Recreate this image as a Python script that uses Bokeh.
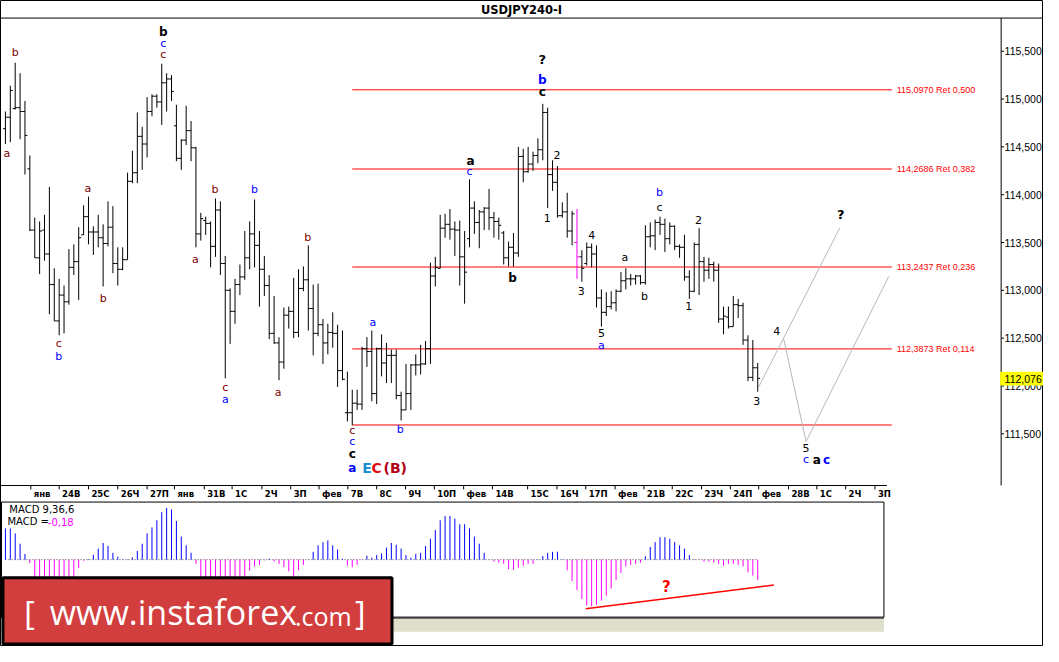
from bokeh.plotting import figure
from bokeh.models import Range1d, ColumnDataSource
from bokeh.core.properties import value
from bokeh.embed import file_html
from bokeh.resources import INLINE

# ---------------- data ----------------
opens = [114.69, 114.81, 114.90, 114.91, 114.87, 114.27, 113.63, 113.34, 113.63, 113.38,
         113.06, 112.68, 112.95, 112.88, 113.24, 113.30, 113.58, 113.77, 113.61, 113.61,
         113.55, 113.49, 113.66, 113.28, 113.22, 113.32, 114.14, 114.23, 114.61, 114.53,
         114.87, 115.03, 114.97, 115.17, 115.21, 114.72, 114.38, 114.57, 114.67, 114.49,
         113.59, 113.73, 113.70, 113.46, 113.84, 113.28, 113.00, 112.78, 113.06, 113.14,
         113.34, 113.59, 113.47, 113.22, 113.05, 112.55, 112.45, 112.25, 112.74, 112.78,
         112.56, 113.02, 113.11, 112.81, 112.55, 112.64, 112.45, 112.56, 112.55, 112.16,
         111.72, 111.72, 111.82, 111.81, 112.39, 112.36, 111.92, 112.39, 112.24, 112.32,
         112.32, 111.90, 111.75, 111.92, 112.22, 112.22, 112.23, 112.39, 113.15, 113.23,
         113.65, 113.69, 113.64, 113.63, 113.35, 113.54, 113.86, 113.71, 113.82, 113.86,
         113.76, 113.72, 113.60, 113.34, 113.45, 113.39, 114.40, 114.24, 114.32, 114.41,
         114.47, 114.86, 114.21, 114.13, 113.78, 113.82, 113.62, 113.50, 113.35, 113.28,
         113.45, 113.38, 112.92, 112.77, 112.83, 112.87, 112.99, 113.10, 113.12, 113.12,
         113.15, 113.08, 113.56, 113.57, 113.71, 113.69, 113.54, 113.67, 113.46, 113.45,
         113.14, 112.99, 113.48, 113.30, 113.21, 113.27, 113.21, 112.70, 112.72, 112.62,
         112.85, 112.84, 112.48, 112.09, 112.19]
highs = [114.87, 115.14, 115.38, 115.27, 114.98, 114.41, 113.76, 113.72, 113.79, 114.08,
         113.23, 113.12, 113.05, 113.43, 113.48, 113.66, 113.89, 113.98, 113.67, 113.79,
         113.69, 113.93, 113.88, 113.45, 113.45, 114.23, 114.46, 114.86, 114.71, 115.02,
         115.05, 115.05, 115.37, 115.27, 115.25, 114.94, 114.58, 114.93, 114.77, 114.50,
         113.81, 113.77, 113.72, 113.96, 113.93, 113.36, 113.02, 113.12, 113.27, 113.62,
         113.72, 113.95, 113.62, 113.36, 113.16, 112.94, 112.51, 112.82, 112.83, 113.13,
         113.22, 113.25, 113.47, 113.06, 113.07, 112.70, 112.65, 112.77, 112.64, 112.58,
         112.15, 111.96, 111.96, 112.41, 112.51, 112.58, 112.40, 112.54, 112.45, 112.38,
         112.38, 111.94, 112.23, 112.23, 112.33, 112.43, 112.47, 113.29, 113.35, 113.79,
         113.80, 113.85, 113.72, 113.73, 113.62, 114.16, 113.93, 113.84, 113.87, 114.06,
         113.82, 113.76, 113.62, 113.51, 113.60, 114.50, 114.48, 114.50, 114.45, 114.59,
         114.95, 114.91, 114.36, 114.30, 113.92, 114.02, 113.83, 113.85, 113.42, 113.50,
         113.49, 113.47, 113.01, 112.98, 112.99, 113.01, 113.19, 113.23, 113.17, 113.16,
         113.16, 113.68, 113.71, 113.74, 113.77, 113.75, 113.71, 113.68, 113.48, 113.58,
         113.21, 113.50, 113.65, 113.35, 113.34, 113.30, 113.28, 112.83, 112.83, 112.94,
         112.91, 112.87, 112.53, 112.48, 112.24]
lows = [114.53, 114.55, 114.89, 114.58, 114.21, 113.62, 113.34, 113.17, 113.31, 112.75,
        112.68, 112.53, 112.55, 112.85, 113.16, 112.90, 113.58, 113.48, 113.37, 113.45,
        113.04, 113.46, 113.18, 113.05, 113.21, 113.32, 114.12, 114.12, 114.26, 114.39,
        114.82, 114.91, 114.73, 114.87, 114.98, 114.35, 114.26, 114.52, 114.35, 113.45,
        113.52, 113.58, 113.24, 113.35, 113.16, 112.08, 112.44, 112.65, 112.95, 113.11,
        113.22, 113.24, 112.83, 112.94, 112.49, 112.44, 112.06, 112.18, 112.60, 112.50,
        112.51, 112.99, 112.58, 112.32, 112.52, 112.23, 112.33, 112.40, 111.99, 112.06,
        111.63, 111.59, 111.75, 111.75, 112.20, 111.84, 111.81, 112.10, 112.03, 112.03,
        111.86, 111.64, 111.75, 111.75, 112.11, 112.12, 112.22, 112.23, 113.04, 113.23,
        113.55, 113.53, 113.36, 113.05, 112.86, 113.45, 113.59, 113.44, 113.63, 113.63,
        113.55, 113.53, 113.27, 113.25, 113.25, 113.35, 114.13, 114.23, 114.25, 114.33,
        114.36, 113.86, 114.04, 113.76, 113.76, 113.55, 113.47, 113.12, 113.09, 113.26,
        113.24, 112.82, 112.62, 112.73, 112.80, 112.78, 112.98, 113.01, 113.05, 113.06,
        113.06, 113.06, 113.45, 113.42, 113.58, 113.40, 113.48, 113.42, 113.34, 113.10,
        112.91, 112.98, 112.95, 113.09, 113.12, 113.09, 112.66, 112.54, 112.60, 112.62,
        112.71, 112.43, 112.05, 112.05, 111.94]
closes = [114.81, 115.09, 114.91, 114.87, 114.62, 113.63, 113.34, 113.62, 113.38, 113.06,
          112.68, 112.95, 112.88, 113.24, 113.30, 113.55, 113.77, 113.61, 113.61, 113.55,
          113.49, 113.66, 113.28, 113.22, 113.32, 114.14, 114.23, 114.61, 114.53, 114.87,
          115.03, 114.97, 115.17, 115.21, 115.08, 114.38, 114.57, 114.67, 114.49, 113.59,
          113.75, 113.70, 113.46, 113.84, 113.28, 113.00, 112.78, 113.06, 113.14, 113.34,
          113.59, 113.47, 113.22, 113.05, 112.55, 112.45, 112.25, 112.74, 112.78, 112.56,
          113.02, 113.11, 112.81, 112.55, 112.64, 112.45, 112.56, 112.55, 112.16, 112.07,
          111.72, 111.82, 111.81, 112.39, 112.36, 111.92, 112.39, 112.24, 112.32, 112.32,
          111.90, 111.75, 111.92, 112.22, 112.22, 112.23, 112.39, 113.15, 113.24, 113.65,
          113.69, 113.64, 113.63, 113.35, 113.19, 113.86, 113.71, 113.82, 113.86, 113.76,
          113.72, 113.68, 113.34, 113.45, 113.39, 114.40, 114.24, 114.32, 114.41, 114.47,
          114.86, 114.21, 114.13, 113.78, 113.82, 113.62, 113.80, 113.35, 113.23, 113.45,
          113.38, 112.92, 112.77, 112.83, 112.87, 112.99, 113.10, 113.12, 113.12, 113.15,
          113.08, 113.56, 113.57, 113.71, 113.69, 113.54, 113.67, 113.46, 113.45, 113.14,
          112.99, 113.48, 113.30, 113.21, 113.27, 113.21, 112.70, 112.73, 112.62, 112.85,
          112.84, 112.48, 112.09, 112.19, 112.08]
highlight_bar = 117

macd_hist = [0.274, 0.274, 0.231, 0.14, 0.049, -0.031, -0.15, -0.19, -0.22, -0.24,
             -0.25, -0.25, -0.23, -0.2, -0.16, -0.074, -0.01, 0.005, 0.043, 0.097,
             0.146, 0.12, 0.06, 0.026, 0.003, 0.003, 0.02, 0.077, 0.14, 0.231,
             0.283, 0.346, 0.417, 0.454, 0.44, 0.34, 0.203, 0.126, 0.06, -0.037,
             -0.16, -0.2, -0.23, -0.25, -0.26, -0.26, -0.25, -0.23, -0.2, -0.15,
             -0.097, -0.06, -0.046, -0.006, 0.009, -0.017, -0.037, -0.066, -0.103, -0.15,
             -0.094, -0.046, -0.003, 0.069, 0.126, 0.154, 0.169, 0.126, 0.089, 0.009,
             -0.054, -0.066, -0.046, -0.003, 0.034, 0.017, 0.04, 0.054, 0.106, 0.146,
             0.131, 0.097, 0.04, 0.017, 0.049, 0.06, 0.12, 0.183, 0.26, 0.346,
             0.383, 0.383, 0.36, 0.311, 0.311, 0.274, 0.203, 0.14, 0.06, 0.0,
             -0.017, -0.026, -0.037, -0.083, -0.089, -0.07, -0.054, -0.037, -0.037, 0.003,
             0.031, 0.06, 0.069, 0.069, 0.003, -0.094, -0.189, -0.266, -0.346, -0.403,
             -0.409, -0.397, -0.36, -0.317, -0.254, -0.18, -0.117, -0.06, -0.046, -0.037,
             -0.026, 0.031, 0.111, 0.154, 0.197, 0.197, 0.183, 0.154, 0.126, 0.097,
             0.04, 0.003, -0.003, -0.017, -0.017, -0.026, -0.037, -0.054, -0.037, -0.037,
             -0.046, -0.06, -0.111, -0.14, -0.18]

date_labels = ["янв", "24В", "25С", "26Ч", "27П", "янв", "31В", "1С", "2Ч", "3П",
               "фев", "7В", "8С", "9Ч", "10П", "фев", "14В", "15С", "16Ч", "17П",
               "фев", "21В", "22С", "23Ч", "24П", "фев", "28В", "1С", "2Ч", "3П"]
date_ticks = [5.2, 11.0, 17.0, 23.0, 29.0, 34.6, 40.7, 46.4, 52.5, 58.4,
              64.2, 70.1, 76.0, 81.9, 87.8, 93.8, 99.7, 106.9, 112.9, 118.8,
              124.8, 130.7, 136.5, 142.5, 148.4, 154.2, 160.3, 166.1, 172.0, 178.0]

price_ticks = [111.5, 112.0, 112.5, 113.0, 113.5, 114.0, 114.5, 115.0, 115.5]
price_tick_labels = ["111,500", "112,000", "112,500", "113,000", "113,500",
                     "114,000", "114,500", "115,000", "115,500"]
fib_levels = [115.0970, 114.2686, 113.2437, 112.3873, 111.592]
fib_labels = ["115,0970 Ret 0,500", "114,2686 Ret 0,382", "113,2437 Ret 0,236",
              "112,3873 Ret 0,114", ""]
last_price = 112.076
last_price_label = "112,076"

# wave labels (bar index, price)
M, B, K = "#800000", "#0000FF", "#000000"
wave_x = [2.0, 0.3, 32.3, 32.3, 32.3, 16.9, 42.9, 51.0, 61.9, 10.9,
          10.9, 20.0, 38.9, 45.0, 45.0, 55.8, 71.0, 71.0, 71.0, 71.0,
          74.0, 76.0, 79.8, 75.2, 80.8, 103.8, 117.9, 120.0, 122.0, 122.0,
          126.8, 130.8, 139.9, 109.9, 109.9, 109.9, 95.2, 95.0, 112.9, 110.9,
          133.9, 133.9, 141.9, 171.0, 157.9, 153.8, 163.9, 163.9, 166.1, 168.1]
wave_y = [115.49, 114.43, 115.70, 115.58, 115.47, 114.06, 114.05, 114.05, 113.55, 112.44,
          112.31, 112.91, 113.32, 111.98, 111.86, 111.93, 111.53, 111.42, 111.29, 111.14,
          111.14, 111.14, 111.14, 112.66, 111.54, 113.13, 112.99, 113.58, 112.55, 112.42,
          113.34, 112.94, 112.84, 115.41, 115.20, 115.07, 114.35, 114.24, 114.42, 113.76,
          114.02, 113.87, 113.74, 113.79, 112.57, 111.84, 111.35, 111.23, 111.23, 111.23]
wave_text = ["b", "a", "b", "c", "c", "a", "b", "b", "b", "c",
             "b", "b", "a", "c", "a", "a", "c", "c", "c", "a",
             "E", "C", "(B)", "a", "b", "b", "3", "4", "5", "a",
             "a", "b", "1", "?", "b", "c", "a", "c", "2", "1",
             "b", "c", "2", "?", "4", "3", "5", "c", "a", "c"]
wave_color = [M, M, K, B, M, M, M, B, M, M,
              B, M, M, M, B, M, M, B, K, B,
              "#1E90D0", "#E01010", "#B00018", B, B, K, K, K, K, B,
              K, K, K, K, B, K, K, B, K, K,
              B, K, K, K, K, K, K, B, K, B]
wave_bold = [0, 0, 1, 0, 0, 0, 0, 0, 0, 0,
             0, 0, 0, 0, 0, 0, 0, 0, 1, 1,
             1, 1, 1, 0, 0, 1, 0, 0, 0, 0,
             0, 0, 0, 1, 1, 1, 1, 0, 0, 0,
             0, 0, 0, 1, 0, 0, 0, 0, 1, 1]

# projected wave paths
path_a_x = [154.2, 170.8]
path_a_y = [111.99, 113.653]
path_b_x = [159.3, 163.9, 180.8]
path_b_y = [112.495, 111.418, 113.143]

# ---------------- layout helpers (reference pixel -> data units) ----------------
W, H = 1043, 646
REF_W, REF_H = 1059, 662
BAR0_PX, BAR_PX = 5.0, 4.96


def xi(px):
    return (px - BAR0_PX) / BAR_PX


def yp(py):
    return 115.0 - (py - 101.0) / 98.0


def ym(py):
    return (573.0 - py) / 116.7


FONT = value("DejaVu Sans")
NARROW = value("Liberation Sans")

p = figure(width=W, height=H, x_range=Range1d(xi(0), xi(REF_W)),
           y_range=Range1d(yp(REF_H), yp(0)), output_backend="svg",
           toolbar_location=None, x_axis_location=None, y_axis_location=None,
           min_border=0)
p.extra_y_ranges = {"macd": Range1d(ym(REF_H), ym(0))}
p.outline_line_color = "black"
p.outline_line_width = 1
p.grid.grid_line_color = None
p.background_fill_color = "white"
p.border_fill_color = "white"

# title bar
p.segment(x0=[xi(0)], x1=[xi(REF_W)], y0=[yp(18)], y1=[yp(18)], line_color="black", line_width=1)
p.text(x=[xi(529)], y=[yp(9.5)], text=["USDJPY240-I"], text_font=FONT, text_font_style="bold",
       text_font_size="11.5px", text_align="center", text_baseline="middle", text_color="black")

# price axis (right)
p.segment(x0=[xi(1016)], x1=[xi(1016)], y0=[yp(18)], y1=[yp(497)], line_color="black")
p.segment(x0=[xi(1016)] * len(price_ticks), x1=[xi(1019)] * len(price_ticks),
          y0=price_ticks, y1=price_ticks, line_color="black")
p.text(x=[xi(1019.5)] * len(price_ticks), y=price_ticks, text=price_tick_labels, text_font=NARROW,
       text_font_size="10.5px", text_align="left", text_baseline="middle", text_color="black")
p.quad(left=[xi(1015)], right=[xi(REF_W)], top=[last_price + 7 / 98.0],
       bottom=[last_price - 7 / 98.0], fill_color="#FFFF00", line_color=None)
p.text(x=[xi(1019.5)], y=[last_price], text=[last_price_label], text_font=NARROW,
       text_font_size="10.5px", text_align="left", text_baseline="middle", text_color="black")

# date axis
p.segment(x0=[xi(0)], x1=[xi(900)], y0=[yp(497)], y1=[yp(497)], line_color="black")
p.segment(x0=date_ticks, x1=date_ticks, y0=[yp(497)] * len(date_ticks),
          y1=[yp(501)] * len(date_ticks), line_color="black")
p.text(x=[t + 0.6 for t in date_ticks], y=[yp(506)] * len(date_ticks), text=date_labels,
       text_font=FONT, text_font_size="8.5px", text_font_style="bold", text_align="left",
       text_baseline="middle", text_color="black")

# fibonacci levels
fib_start = lows.index(min(lows))
p.segment(x0=[fib_start] * len(fib_levels), x1=[xi(905)] * len(fib_levels),
          y0=fib_levels, y1=fib_levels, line_color="#FF0000", line_width=1)
p.text(x=[xi(910)] * len(fib_levels), y=fib_levels, text=fib_labels, text_font=NARROW,
       text_font_size="9px", text_align="left", text_baseline="middle", text_color="#FF0000")

# projected paths
p.line(path_a_x, path_a_y, line_color="#B8B8B8", line_width=1)
p.line(path_b_x, path_b_y, line_color="#B8B8B8", line_width=1)

# OHLC bars
idx = list(range(len(opens)))
bar_col = ["#FF00FF" if i == highlight_bar else "black" for i in idx]
src = ColumnDataSource(dict(x=idx, o=opens, h=highs, l=lows, c=closes,
                            xl=[i - 0.5 for i in idx], xr=[i + 0.5 for i in idx], col=bar_col))
p.segment(x0="x", x1="x", y0="l", y1="h", line_color="col", line_width=1, source=src)
p.segment(x0="xl", x1="x", y0="o", y1="o", line_color="col", line_width=1, source=src)
p.segment(x0="x", x1="xr", y0="c", y1="c", line_color="col", line_width=1, source=src)

# wave labels
wsrc = ColumnDataSource(dict(
    x=wave_x, y=wave_y, t=wave_text, col=wave_color,
    st=["bold" if b else "normal" for b in wave_bold],
    sz=["14px" if t in ("E", "C", "(B)") else ("13px" if t == "?" else ("12px" if b else "11px"))
        for t, b in zip(wave_text, wave_bold)]))
p.text(x="x", y="y", text="t", text_color="col", text_font_style="st", text_font_size="sz",
       text_font=FONT, text_align="center", text_baseline="middle", source=wsrc)

# MACD pane
p.quad(left=[xi(1)], right=[xi(897)], top=[yp(514)], bottom=[yp(632)], fill_color="white",
       line_color="black", line_width=1)
p.quad(left=[xi(1)], right=[xi(897)], top=[yp(633.5)], bottom=[yp(647)], fill_color="#DEDECB",
       line_color=None)
p.segment(x0=[xi(1)], x1=[xi(897)], y0=[yp(632.5)], y1=[yp(632.5)], line_color="#404040",
          line_width=2)
p.segment(x0=[0], x1=[len(macd_hist) - 1], y0=[0], y1=[0], line_color="#505050",
          line_dash="1 2", y_range_name="macd")
macd_col = ["#0000FF" if v >= 0 else "#FF00FF" for v in macd_hist]
msrc = ColumnDataSource(dict(x=idx, y0=[0.0] * len(idx), y1=macd_hist, col=macd_col))
p.segment(x0="x", x1="x", y0="y0", y1="y1", line_color="col", line_width=1,
          y_range_name="macd", source=msrc)
p.text(x=[xi(9)], y=[yp(522)], text=["MACD 9,36,6"], text_font=FONT, text_font_size="10px",
       text_align="left", text_baseline="middle", text_color="black")
p.text(x=[xi(7)], y=[yp(534)], text=["MACD ="], text_font=FONT, text_font_size="10px",
       text_align="left", text_baseline="middle", text_color="black")
p.text(x=[xi(48)], y=[yp(534)], text=["-0,18"], text_font=FONT, text_font_size="10px",
       text_align="left", text_baseline="middle", text_color="#FF00FF")
# divergence annotation
p.line([118.8, 157.3], [-0.431, -0.223], line_color="#FF0000", line_width=1.5, y_range_name="macd")
p.text(x=[135.3], y=[-0.24], text=["?"], text_font=FONT, text_font_style="bold",
       text_font_size="15px", text_align="center", text_baseline="middle",
       text_color="#FF0000", y_range_name="macd")

# instaforex logo
p.quad(left=[xi(2.5)], right=[xi(397.5)], top=[yp(591.5)], bottom=[yp(659.5)],
       fill_color="#D23E3E", line_color="black", line_width=3)
LOGO = value("Open Sans")
p.text(x=[xi(24)], y=[yp(627)], text=["["], text_font=LOGO, text_font_size="32px",
       text_align="left", text_baseline="middle", text_color="white")
p.text(x=[xi(50)], y=[yp(627)], text=["www.instaforex"], text_font=LOGO, text_font_size="34px",
       text_align="left", text_baseline="middle", text_color="white")
p.text(x=[xi(299)], y=[yp(631)], text=[".com"], text_font=LOGO, text_font_size="25px",
       text_align="left", text_baseline="middle", text_color="white")
p.text(x=[xi(360)], y=[yp(627)], text=["]"], text_font=LOGO, text_font_size="32px",
       text_align="left", text_baseline="middle", text_color="white")

open("out.html", "w").write(file_html(p, INLINE))
